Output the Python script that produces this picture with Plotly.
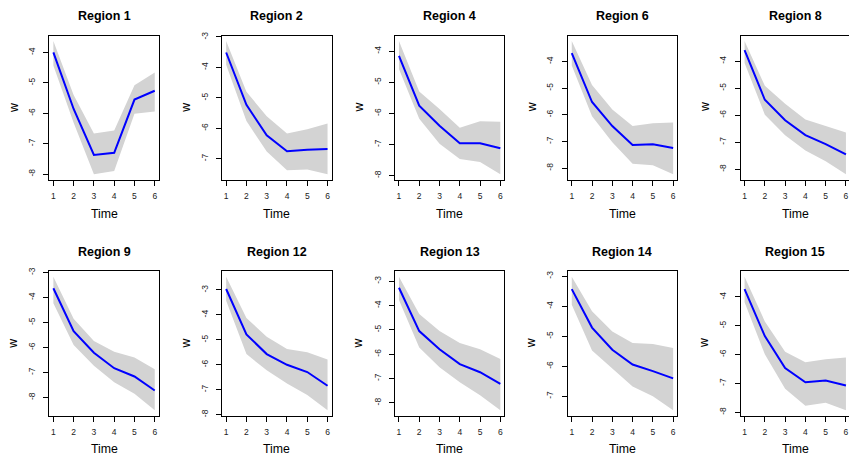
import math
import plotly.graph_objects as go

# Time points shared by every region
time = [1, 2, 3, 4, 5, 6]

# Posterior mean of w and its credible band, per region
r1_mean = [-4.00, -5.86, -7.37, -7.30, -5.55, -5.26]
r1_upper = [-3.62, -5.40, -6.67, -6.57, -5.08, -4.66]
r1_lower = [-4.43, -6.31, -8.01, -7.90, -6.02, -5.94]

r2_mean = [-3.51, -5.23, -6.23, -6.75, -6.70, -6.68]
r2_upper = [-3.13, -4.80, -5.60, -6.17, -6.03, -5.84]
r2_lower = [-3.91, -5.76, -6.76, -7.38, -7.35, -7.51]

r4_mean = [-4.15, -5.75, -6.40, -6.96, -6.96, -7.12]
r4_upper = [-3.67, -5.30, -5.86, -6.46, -6.25, -6.27]
r4_lower = [-4.57, -6.17, -6.98, -7.47, -7.56, -7.96]

r6_mean = [-3.69, -5.52, -6.42, -7.13, -7.10, -7.24]
r6_upper = [-3.23, -4.88, -5.80, -6.42, -6.32, -6.29]
r6_lower = [-4.15, -6.05, -7.03, -7.83, -7.89, -8.23]

r8_mean = [-3.59, -5.43, -6.19, -6.74, -7.07, -7.45]
r8_upper = [-3.25, -4.91, -5.58, -6.16, -6.40, -6.64]
r8_lower = [-4.07, -5.98, -6.74, -7.31, -7.71, -8.19]

r9_mean = [-3.63, -5.35, -6.21, -6.83, -7.16, -7.72]
r9_upper = [-3.17, -4.85, -5.74, -6.17, -6.40, -6.87]
r9_lower = [-4.23, -5.90, -6.73, -7.39, -7.85, -8.51]

r12_mean = [-2.96, -4.78, -5.57, -6.00, -6.29, -6.84]
r12_upper = [-2.47, -4.12, -4.88, -5.37, -5.50, -5.79]
r12_lower = [-3.43, -5.57, -6.22, -6.75, -7.21, -7.82]

r13_mean = [-3.27, -5.05, -5.80, -6.41, -6.74, -7.22]
r13_upper = [-2.82, -4.35, -5.05, -5.54, -5.80, -6.20]
r13_lower = [-3.77, -5.73, -6.54, -7.15, -7.69, -8.30]

r14_mean = [-3.43, -4.71, -5.45, -5.94, -6.16, -6.40]
r14_upper = [-3.02, -4.17, -4.84, -5.22, -5.26, -5.39]
r14_lower = [-3.95, -5.47, -6.07, -6.67, -7.00, -7.46]

r15_mean = [-3.73, -5.36, -6.47, -6.96, -6.90, -7.07]
r15_upper = [-3.30, -4.85, -5.90, -6.27, -6.16, -6.10]
r15_lower = [-4.18, -5.99, -7.19, -7.78, -7.67, -7.93]

region_names = ["Region 1", "Region 2", "Region 4", "Region 6", "Region 8",
                "Region 9", "Region 12", "Region 13", "Region 14", "Region 15"]

panels = [
    (r1_mean, r1_upper, r1_lower),
    (r2_mean, r2_upper, r2_lower),
    (r4_mean, r4_upper, r4_lower),
    (r6_mean, r6_upper, r6_lower),
    (r8_mean, r8_upper, r8_lower),
    (r9_mean, r9_upper, r9_lower),
    (r12_mean, r12_upper, r12_lower),
    (r13_mean, r13_upper, r13_lower),
    (r14_mean, r14_upper, r14_lower),
    (r15_mean, r15_upper, r15_lower),
]

W, H = 849, 457
FONT = "Liberation Sans, Arial, Helvetica, sans-serif"
col_left = [49.3 + 172.8 * i for i in range(5)]
row_top = [32.0, 271.0]
box_w, box_h = 109.5, 146.0

fig = go.Figure()
layout = {}
annotations = []

for k, (name, mean, upper, lower) in enumerate(zip(region_names, *zip(*panels))):
    r, c = divmod(k, 5)
    x0 = col_left[c]
    x1 = min(x0 + box_w, W)
    y_top = row_top[r]
    y_bot = y_top + box_h
    idx = "" if k == 0 else str(k + 1)
    xa, ya = "x" + idx, "y" + idx

    # shaded band
    fig.add_trace(go.Scatter(
        x=time + time[::-1], y=list(upper) + list(lower)[::-1],
        fill="toself", fillcolor="#d3d3d3", mode="lines",
        line=dict(width=0, color="#d3d3d3"),
        xaxis=xa, yaxis=ya, hoverinfo="skip", showlegend=False))
    # mean curve
    fig.add_trace(go.Scatter(
        x=time, y=list(mean), mode="lines",
        line=dict(color="#0000ff", width=2),
        xaxis=xa, yaxis=ya, showlegend=False))

    # R-style 4% padded ranges
    xr0, xr1 = min(time) - 0.04 * 5, max(time) + 0.04 * 5
    xr1_vis = xr0 + (xr1 - xr0) * (x1 - x0) / box_w
    lo, hi = min(lower), max(upper)
    pad = 0.04 * (hi - lo)
    yr = [lo - pad, hi + pad]
    yticks = list(range(math.ceil(yr[0]), math.floor(yr[1]) + 1))

    layout["xaxis" + idx] = dict(
        domain=[x0 / W, x1 / W], range=[xr0, xr1_vis], anchor=ya,
        tickvals=time, ticktext=[str(t) for t in time],
        ticks="outside", ticklen=5, tickwidth=1, tickcolor="#000",
        ticklabelstandoff=3,
        showline=True, mirror=True, linecolor="#000", linewidth=1,
        showgrid=False, zeroline=False,
        tickfont=dict(family=FONT, size=8.5, color="#222"))
    layout["yaxis" + idx] = dict(
        domain=[(H - y_bot) / H, (H - y_top) / H], range=yr, anchor=xa,
        tickvals=yticks, ticktext=[str(v) for v in yticks], tickangle=-90,
        ticks="outside", ticklen=5, tickwidth=1, tickcolor="#000",
        ticklabelstandoff=5,
        showline=True, mirror=(c < 4), linecolor="#000", linewidth=1,
        showgrid=False, zeroline=False,
        tickfont=dict(family=FONT, size=8.5, color="#222"))

    cx = (x0 + x0 + box_w) / 2
    annotations.append(dict(
        text="<b>" + name + "</b>", x=cx / W, y=(H - (y_top - 20)) / H,
        xref="paper", yref="paper", xanchor="center", yanchor="middle",
        showarrow=False, font=dict(family=FONT, size=12.5, color="#000")))
    annotations.append(dict(
        text="Time", x=cx / W, y=(H - (y_bot + 34.3)) / H,
        xref="paper", yref="paper", xanchor="center", yanchor="middle",
        showarrow=False, font=dict(family=FONT, size=12.3, color="#000")))
    annotations.append(dict(
        text="w", x=(x0 - 36) / W, y=(H - (y_top + y_bot) / 2) / H,
        xref="paper", yref="paper", xanchor="center", yanchor="middle",
        textangle=-90, showarrow=False,
        font=dict(family=FONT, size=12.3, color="#000")))

fig.update_layout(
    width=W, height=H, margin=dict(l=0, r=0, t=0, b=0),
    paper_bgcolor="white", plot_bgcolor="white",
    showlegend=False, annotations=annotations, **layout)

fig.write_html("out.html", config={"displayModeBar": False})
